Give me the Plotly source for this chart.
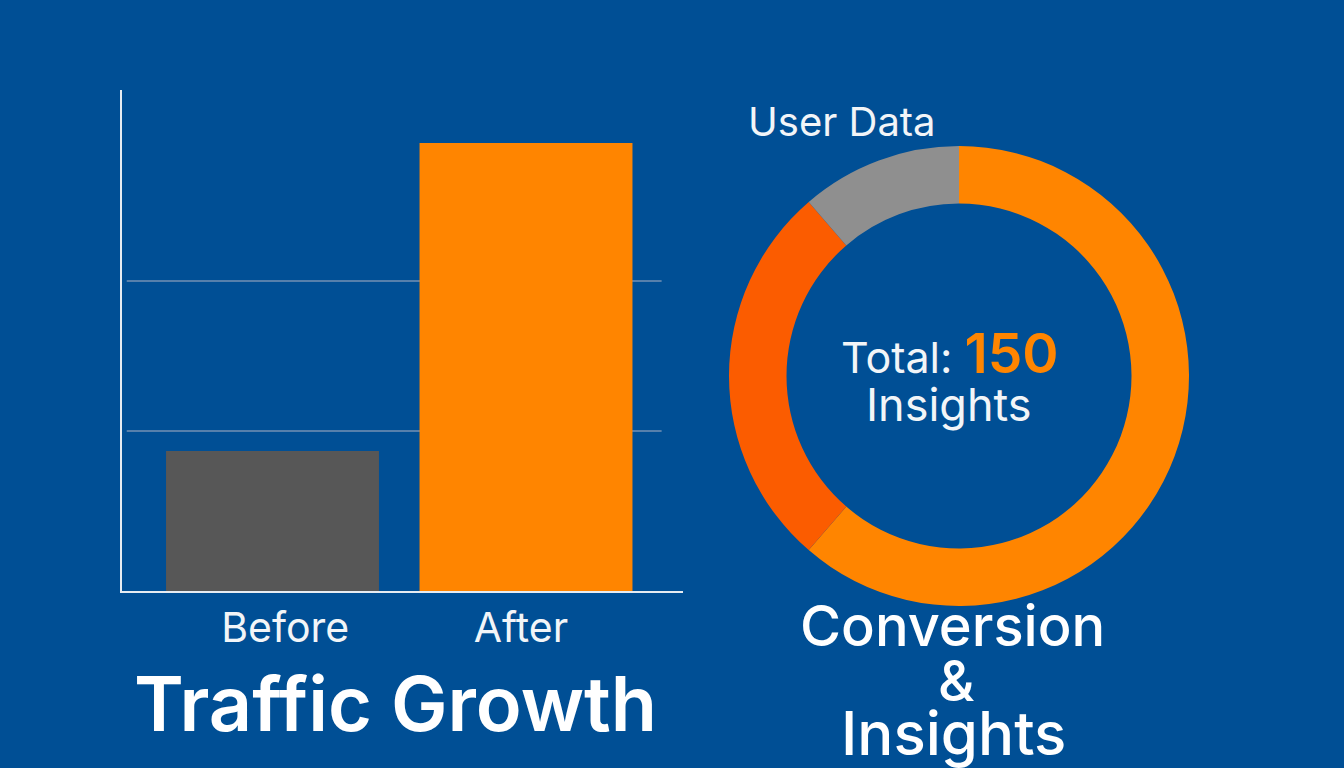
import plotly.graph_objects as go

bar_labels = ['Before', 'After']
bar_values = [140, 448]
bar_colors = ['#575757', '#ff8500']
grid_values = [160, 310]

donut_labels = ['Conversion', 'Insights', 'User Data']
donut_values = [92, 41, 17]
donut_colors = ['#ff8500', '#fb5c00', '#8f8f8f']

BG = '#004f95'
W, H = 1344, 768


def label(text, x, y, size, color='white', weight=400):
    # positions in picture pixels, from the top-left corner
    return dict(text=text, x=x / W, y=1 - y / H, xref='paper', yref='paper',
                xanchor='center', yanchor='middle', showarrow=False,
                font=dict(size=size, color=color, weight=weight))


fig = go.Figure()

fig.add_trace(go.Bar(
    x=[0, 1],
    y=bar_values,
    marker=dict(color=bar_colors, line=dict(width=0)),
    width=0.84,
    showlegend=False,
))

for g in grid_values:
    fig.add_shape(type='line', xref='x', yref='y',
                  x0=-0.575, x1=1.535, y0=g, y1=g,
                  line=dict(color='#7391b5', width=1.5), layer='below')

fig.add_trace(go.Pie(
    labels=donut_labels,
    values=donut_values,
    hole=0.75,
    sort=False,
    direction='clockwise',
    rotation=0,
    textinfo='none',
    marker=dict(colors=donut_colors, line=dict(width=0)),
    domain=dict(x=[729 / W, 1189 / W], y=[1 - 606 / H, 1 - 146 / H]),
    showlegend=False,
))

annotations = [
    label('Traffic Growth', 395, 703, 75.5, weight=600),
    label('User Data', 842, 122, 40, '#f2f5f8'),
    label('Total: <span style="color:#ff8500;font-weight:600;font-size:55px">150</span>',
          950, 353, 43, '#f2f5f8'),
    label('Insights', 949, 404, 45, '#f2f5f8'),
    label('Conversion', 952, 626, 56, weight=500),
    label('&', 956, 681, 56, weight=500),
    label('Insights', 953, 733, 60, weight=500),
]

fig.update_layout(
    width=W, height=H,
    autosize=False,
    paper_bgcolor=BG,
    plot_bgcolor=BG,
    margin=dict(l=0, r=0, t=0, b=0),
    font=dict(family='Inter', color='white'),
    xaxis=dict(
        domain=[122 / W, 683 / W],
        range=[-0.5937, 1.6193],
        tickvals=[0.05, 0.98],
        ticktext=bar_labels,
        tickfont=dict(size=41, color='#f2f5f8'),
        ticks='',
        showgrid=False,
        zeroline=False,
        showline=True,
        linecolor='#e6ecf2',
        linewidth=2,
    ),
    yaxis=dict(
        domain=[1 - 591 / H, 1 - 90 / H],
        range=[0, 501],
        showticklabels=False,
        ticks='',
        showgrid=False,
        zeroline=False,
        showline=True,
        linecolor='#e6ecf2',
        linewidth=2,
    ),
    annotations=annotations,
)

fig.write_html('out.html', config={'displayModeBar': False},
               post_script="document.body.style.margin='0';document.body.style.overflow='hidden';")
